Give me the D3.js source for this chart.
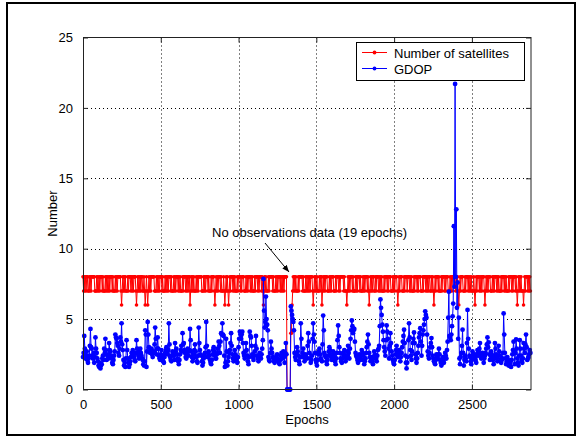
<!DOCTYPE html>
<html>
<head>
<meta charset="utf-8">
<script src="https://cdn.jsdelivr.net/npm/d3@7"></script>
<style>
  body { margin: 0; background: #fff; }
  svg { display: block; font-family: "Liberation Sans", Arial, sans-serif; }
</style>
</head>
<body>
<svg width="582" height="438"></svg>
<script>
// readings every 8 epochs (epoch 0, 8, 16 ...) and in between (epoch 4, 12, 20 ...)
const epochStep = 8;
const xTicks = [0, 500, 1000, 1500, 2000, 2500];
const yTicks = [0, 5, 10, 15, 20, 25];
const seriesNames = ['Number of satellites', 'GDOP'];

const satellites = [
  8,8,8,8,7,8,8,8,8,8,7,8,8,8,8,8,8,7,8,8,
  8,8,8,8,8,7,8,8,8,8,8,6,8,8,8,7,8,8,8,8,
  8,8,8,6,8,8,8,8,7,8,6,8,6,8,8,8,8,8,7,8,
  8,8,8,8,8,7,8,8,8,8,8,8,7,8,8,8,8,8,8,7,
  8,8,8,8,8,8,6,8,8,8,7,8,8,8,8,8,7,8,8,8,
  8,8,7,8,8,8,6,8,8,8,8,8,7,8,6,8,8,6,8,8,
  8,8,8,7,8,8,8,8,8,8,7,8,8,8,8,8,8,7,8,8,
  8,8,8,8,8,6,8,8,7,8,8,8,8,8,7,8,8,8,8,8,
  8,8,8,8,0,0,0,4,6,8,8,8,7,8,8,8,8,8,7,8,
  8,8,8,8,8,6,8,8,8,7,8,8,6,8,8,8,8,7,8,8,
  8,8,7,8,8,8,8,8,8,8,8,7,6,8,8,8,8,8,7,8,
  8,8,8,8,7,8,8,8,8,8,6,8,8,8,7,8,8,8,8,8,
  8,7,8,8,8,8,8,8,7,8,8,8,8,6,8,8,8,7,8,8,
  8,8,8,8,8,7,8,8,8,8,8,8,7,8,8,8,8,8,8,7,
  8,8,6,8,8,8,8,7,8,8,8,8,8,8,7,8,8,8,8,8,
  8,8,6,8,8,8,7,8,8,8,8,8,8,7,8,6,8,8,8,8,
  8,8,8,6,8,8,8,8,7,8,8,8,8,8,8,7,8,8,8,8,
  8,7,8,8,8,8,8,8,8,6,8,8,8,7,6,8,8,8,8,8
];

const satellitesMid = [
  7,7,7,8,7,7,7,8,8,7,7,7,7,7,8,7,7,7,7,7,
  7,7,8,7,7,7,7,7,8,8,7,7,7,7,7,7,7,8,7,7,
  7,8,7,7,7,7,7,8,7,7,7,7,7,7,7,8,8,7,7,7,
  7,7,8,7,7,7,7,7,7,8,7,7,7,7,7,8,7,7,7,7,
  7,8,7,7,7,8,7,7,7,7,7,7,7,8,8,7,7,7,7,8,
  7,7,7,7,8,7,7,7,7,8,7,7,7,7,7,7,7,7,7,8,
  7,7,7,7,7,8,7,7,8,7,7,7,7,8,7,7,7,7,7,8,
  7,7,8,7,7,7,7,7,7,7,8,8,7,7,7,7,7,8,7,7,
  7,7,8,8,0,0,0,4,7,7,7,7,7,7,8,8,7,7,7,7,
  7,7,7,8,7,7,7,7,7,7,7,8,7,7,7,8,7,7,7,7,
  8,7,7,7,8,7,7,8,8,7,7,7,7,7,7,8,7,7,7,7,
  7,8,7,7,7,7,7,8,7,7,7,7,7,8,7,7,8,7,7,7,
  7,7,7,8,7,7,8,7,7,7,7,8,7,7,7,8,7,7,7,8,
  7,8,7,7,7,7,7,8,7,7,8,7,7,7,8,7,7,7,8,7,
  7,7,7,7,8,7,7,7,7,8,7,7,8,7,7,7,7,8,8,7,
  7,7,7,7,8,7,7,7,8,7,7,7,7,7,7,7,7,8,7,7,
  7,8,7,7,7,7,8,7,7,7,7,8,7,7,7,7,7,8,7,7,
  7,7,7,8,7,7,8,7,7,7,7,7,7,7,7,7,8,7,7,7
];

const gdop = [
  2.3,3.8,2.2,2.7,1.9,2.4,4.3,2.9,2.2,1.9,3.7,2.6,2.0,1.6,1.5,1.8,2.4,2.9,3.6,2.1,
  2.5,3.3,2.7,2.2,1.8,2.4,3.9,3.6,3.1,2.4,3.7,4.7,2.8,1.7,1.6,3.5,2.2,1.6,2.0,2.6,
  2.8,2.3,2.0,3.5,2.6,2.2,2.9,2.4,2.1,1.7,4.2,1.6,4.8,3.0,2.6,2.9,2.3,2.7,4.4,2.5,
  3.7,2.4,2.1,2.8,2.2,1.9,2.6,3.0,2.5,4.7,2.3,2.0,2.7,2.4,3.3,2.9,2.2,1.8,2.5,3.1,
  4.0,3.3,2.6,2.2,2.9,2.4,4.3,2.7,2.0,2.5,3.2,2.3,1.9,4.4,2.8,2.4,1.7,2.2,2.6,4.8,
  2.3,2.7,2.1,1.8,2.5,3.0,2.4,2.2,2.9,3.4,2.6,4.0,4.7,3.8,1.6,3.6,1.7,2.3,2.8,4.0,
  2.5,2.0,2.8,2.3,1.9,3.0,4.1,3.6,4.1,2.6,2.2,3.3,2.4,1.8,4.1,3.7,2.5,2.1,2.7,3.8,
  2.4,2.0,2.6,2.2,2.9,7.85,4.4,6.6,4.6,2.3,2.0,3.4,2.6,2.2,1.9,2.1,2.5,2.0,1.8,2.4,
  2.2,2.7,1.9,3.3,0,0,0,5.9,5.3,4.8,2.6,2.1,3.0,2.4,1.8,4.7,2.3,2.9,2.0,2.5,
  2.2,4.0,2.6,1.9,2.4,4.7,3.4,2.1,1.7,2.5,2.9,2.2,2.0,5.25,2.6,2.3,1.8,2.4,3.0,2.5,
  2.1,2.7,2.3,1.8,2.6,4.55,3.0,2.2,1.9,2.5,2.8,2.0,2.4,3.1,2.2,3.6,4.9,4.0,4.3,2.6,
  2.3,1.9,2.5,2.1,2.8,2.4,1.8,2.2,3.0,3.9,2.6,2.0,2.3,1.8,2.7,2.4,2.0,2.8,3.1,6.4,
  5.3,4.1,3.0,2.4,4.55,3.6,2.2,4.0,2.7,2.1,1.8,2.5,3.1,2.3,2.8,2.0,2.6,3.4,4.25,2.4,
  1.5,2.3,4.7,2.8,2.1,3.3,4.05,2.5,1.9,2.6,3.7,4.35,2.4,3.9,4.6,5.55,5.1,2.7,2.2,3.0,
  3.65,2.4,2.0,1.8,2.5,2.2,2.9,2.1,1.7,2.3,1.9,2.6,2.2,3.4,6.95,3.7,3.9,5.2,11.6,21.7,
  12.8,7.6,5.1,1.8,2.6,4.25,1.7,2.4,2.0,5.65,2.9,2.3,1.8,2.7,2.2,2.5,1.9,2.8,2.4,3.3,
  2.2,2.6,1.9,2.4,2.9,3.7,3.35,2.1,2.7,2.3,1.8,3.3,2.5,2.0,3.1,2.4,1.9,2.2,5.4,2.6,
  1.8,2.3,1.7,2.0,1.6,2.5,3.4,1.8,3.55,2.2,1.7,3.5,2.4,1.9,3.3,2.6,3.9,2.1,2.3,2.8
];

const gdopMid = [
  2.6,2.9,2.4,2.1,2.2,3.1,3.0,2.4,2.6,2.3,2.9,2.2,1.7,1.9,1.7,2.2,2.1,2.6,2.8,2.4,
  2.2,2.8,2.4,1.9,2.1,2.7,3.7,3.3,2.6,2.9,3.4,3.2,2.1,1.9,2.2,2.8,1.9,1.8,2.3,2.4,
  2.5,2.1,2.6,2.9,2.4,2.7,2.6,2.2,1.8,2.0,3.9,2.7,3.9,2.7,2.8,2.5,2.6,3.2,3.6,2.9,
  2.9,2.2,2.5,2.4,2.0,2.3,2.8,2.6,2.8,3.2,2.1,2.4,2.5,2.1,2.7,2.5,2.0,2.1,2.8,2.7,
  3.2,2.8,2.3,2.5,2.7,2.8,3.5,2.3,2.2,2.8,2.7,2.0,2.4,3.3,2.5,2.0,1.9,2.4,3.0,3.1,
  2.6,2.4,1.9,2.1,2.8,2.7,2.2,2.5,2.6,3.1,3.4,3.9,3.9,2.4,1.9,2.7,2.0,2.6,3.3,3.1,
  2.2,2.4,2.5,2.1,2.3,3.6,3.9,3.9,3.3,2.4,2.7,2.8,2.0,2.3,3.8,3.1,2.3,2.4,3.1,2.9,
  2.2,2.3,2.4,2.5,3.5,5.6,4.8,5.0,4.2,2.1,2.6,2.9,2.3,2.0,2.2,2.4,2.2,1.9,2.1,2.6,
  2.4,2.3,2.6,2.5,0,0,0,5.6,5.0,4.2,2.3,2.6,2.7,2.0,2.3,3.6,2.6,2.4,2.2,2.3,
  3.1,3.4,2.2,2.1,3.6,3.9,2.6,1.9,2.1,2.7,2.5,2.1,3.2,4.2,2.4,2.0,2.1,2.7,2.8,2.3,
  2.4,2.5,2.0,2.2,3.5,3.8,2.6,2.0,2.2,2.6,2.4,2.2,2.7,2.6,2.9,4.2,4.5,4.2,3.4,2.4,
  2.1,2.2,2.3,2.4,2.6,2.1,2.0,2.6,3.4,3.2,2.3,2.1,2.0,2.2,2.5,2.2,2.4,2.9,4.5,5.8,
  4.6,3.5,2.7,3.5,4.1,2.9,3.1,3.3,2.4,1.9,2.1,2.8,2.7,2.5,2.4,2.3,3.0,3.8,3.3,1.9,
  1.9,3.5,3.7,2.4,2.7,3.6,3.3,2.2,2.2,3.1,4.0,3.4,3.1,4.2,5.0,5.3,3.9,2.4,2.6,3.3,
  3.0,2.2,1.9,2.1,2.3,2.5,2.5,1.9,2.0,2.1,2.2,2.4,2.8,5.1,3.8,3.5,4.5,6.1,7.3,8.0,
  5.8,3.6,2.2,2.3,3.1,2.6,2.1,2.2,3.3,3.6,2.4,2.0,2.1,2.5,2.3,2.1,2.4,2.6,2.9,2.5,
  2.4,2.3,2.2,2.6,3.2,3.0,2.5,2.4,2.5,2.1,2.3,2.9,2.2,2.4,2.7,2.1,2.1,2.6,3.9,2.2,
  2.0,2.1,1.8,1.9,2.1,2.8,2.6,2.6,2.9,1.9,2.4,2.9,2.1,2.2,2.9,3.2,3.0,2.2,2.5,2.6
];

const annotationText = 'No observations data (19 epochs)';

(function (d3) {
  const svg = d3.select('svg');
  const margin = { left: 83, top: 37.5, right: 531, bottom: 389.5 };
  const fontSize = '13px';

  // interleave the two reading sets into one [epoch, value] list
  const toPoints = (main, mid) => main.flatMap((v, k) => [
    [k * epochStep, v],
    [k * epochStep + epochStep / 2, mid[k]]
  ]);
  const satPoints = toPoints(satellites, satellitesMid);
  const gdopPoints = toPoints(gdop, gdopMid);

  // outer frame
  svg.append('rect')
    .attr('x', 7).attr('y', 3)
    .attr('width', 568).attr('height', 432)
    .attr('fill', 'none')
    .attr('stroke', '#000')
    .attr('stroke-width', 2);

  const xScale = d3.scaleLinear()
    .domain([0, 2880])
    .range([margin.left, margin.right]);

  const yScale = d3.scaleLinear()
    .domain([0, 25])
    .range([margin.bottom, margin.top]);

  // grid
  const grid = svg.append('g').attr('class', 'grid')
    .attr('stroke', '#000')
    .attr('stroke-width', 1)
    .attr('stroke-dasharray', '1,3');
  grid.selectAll('.gx').data(xTicks.slice(1)).enter().append('line')
    .attr('x1', d => Math.round(xScale(d)) + 0.5)
    .attr('x2', d => Math.round(xScale(d)) + 0.5)
    .attr('y1', margin.top).attr('y2', margin.bottom);
  grid.selectAll('.gy').data(yTicks.slice(1, -1)).enter().append('line')
    .attr('y1', d => Math.round(yScale(d)) + 0.5)
    .attr('y2', d => Math.round(yScale(d)) + 0.5)
    .attr('x1', margin.left).attr('x2', margin.right);

  svg.append('clipPath').attr('id', 'clip')
    .append('rect')
      .attr('x', margin.left - 3).attr('y', margin.top)
      .attr('width', margin.right - margin.left + 6)
      .attr('height', margin.bottom - margin.top + 3);

  const plot = svg.append('g').attr('clip-path', 'url(#clip)');

  const drawSeries = (points, color, r) => {
    const line = d3.line()
      .x(d => xScale(d[0]))
      .y(d => yScale(d[1]));
    plot.append('path')
      .datum(points)
      .attr('d', line)
      .attr('fill', 'none')
      .attr('stroke', color)
      .attr('stroke-width', 1);
    plot.append('g').selectAll('circle').data(points).enter().append('circle')
      .attr('cx', d => xScale(d[0]))
      .attr('cy', d => yScale(d[1]))
      .attr('r', r)
      .attr('fill', color);
  };

  drawSeries(satPoints, '#ff0000', 1.8);
  drawSeries(gdopPoints, '#0000ff', 2.4);

  // axes box with inward ticks
  const axisColor = '#222';
  svg.append('rect')
    .attr('x', margin.left + 0.5).attr('y', margin.top)
    .attr('width', margin.right - margin.left - 0.5)
    .attr('height', margin.bottom - margin.top)
    .attr('fill', 'none')
    .attr('stroke', axisColor);

  const fmt = d3.format('d');
  const xAxisBottom = d3.axisBottom(xScale).tickValues(xTicks).tickFormat(fmt).tickSize(-5).tickPadding(10);
  const xAxisTop = d3.axisTop(xScale).tickValues(xTicks).tickSize(-5).tickFormat('');
  const yAxisLeft = d3.axisLeft(yScale).tickValues(yTicks).tickFormat(fmt).tickSize(-5).tickPadding(10);
  const yAxisRight = d3.axisRight(yScale).tickValues(yTicks).tickSize(-5).tickFormat('');

  const styleAxis = g => {
    g.selectAll('.domain').remove();
    g.selectAll('line').attr('stroke', axisColor);
    g.selectAll('text')
      .attr('fill', '#000')
      .style('font-size', fontSize)
      .attr('font-family', '"Liberation Sans", Arial, sans-serif');
  };

  svg.append('g').attr('transform', `translate(0,${margin.bottom})`).call(xAxisBottom).call(styleAxis);
  svg.append('g').attr('transform', `translate(0,${margin.top})`).call(xAxisTop).call(styleAxis);
  svg.append('g').attr('transform', `translate(${margin.left},0)`).call(yAxisLeft).call(styleAxis);
  svg.append('g').attr('transform', `translate(${margin.right},0)`).call(yAxisRight).call(styleAxis);

  // axis labels
  svg.append('text')
    .attr('x', (margin.left + margin.right) / 2)
    .attr('y', 424)
    .attr('text-anchor', 'middle')
    .style('font-size', fontSize)
    .text('Epochs');

  svg.append('text')
    .attr('transform', `translate(57,${(margin.top + margin.bottom) / 2}) rotate(-90)`)
    .attr('text-anchor', 'middle')
    .style('font-size', fontSize)
    .text('Number');

  // annotation + arrow
  svg.append('defs').append('marker')
    .attr('id', 'arrowhead')
    .attr('viewBox', '0 0 10 10')
    .attr('refX', 10).attr('refY', 5)
    .attr('markerWidth', 7).attr('markerHeight', 7)
    .attr('orient', 'auto')
    .append('path')
      .attr('d', 'M0,1L10,5L0,9z')
      .attr('fill', '#000');

  svg.append('text')
    .attr('x', 212)
    .attr('y', 237)
    .style('font-size', fontSize)
    .text(annotationText);

  svg.append('line')
    .attr('x1', 265).attr('y1', 243)
    .attr('x2', 289).attr('y2', 272)
    .attr('stroke', '#000')
    .attr('stroke-width', 1)
    .attr('marker-end', 'url(#arrowhead)');

  // legend
  const legend = svg.append('g').attr('transform', 'translate(356,42)');
  legend.append('rect')
    .attr('x', 0.5).attr('y', 0.5)
    .attr('width', 168).attr('height', 38)
    .attr('fill', '#fff')
    .attr('stroke', '#000');

  const legendColors = ['#ff0000', '#0000ff'];
  const item = legend.selectAll('.item').data(seriesNames).enter().append('g')
    .attr('transform', (d, i) => `translate(0,${10.5 + i * 16})`);
  item.append('line')
    .attr('x1', 6).attr('x2', 31)
    .attr('stroke', (d, i) => legendColors[i]);
  item.append('circle')
    .attr('cx', 18.5).attr('r', 1.9)
    .attr('fill', (d, i) => legendColors[i]);
  item.append('text')
    .attr('x', 38).attr('y', 5)
    .style('font-size', fontSize)
    .text(d => d);
}(d3));
</script>
</body>
</html>
